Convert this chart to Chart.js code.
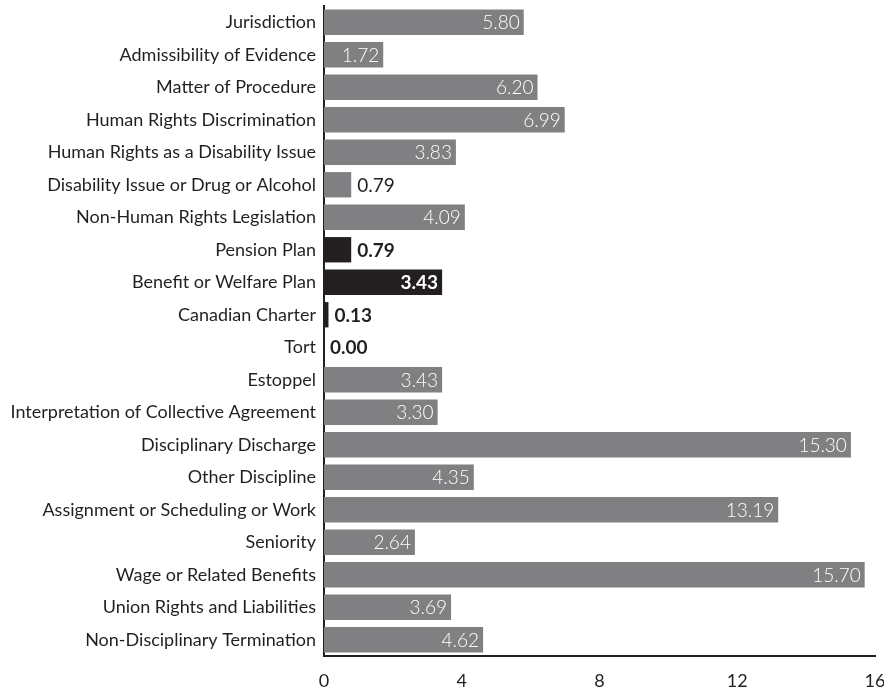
<!DOCTYPE html>
<html>
<head>
<meta charset="utf-8">
<script src="https://cdn.jsdelivr.net/npm/chart.js@4"></script>
<style>
  html, body { margin: 0; padding: 0; background: #fff; }
  #wrap { width: 884px; height: 690px; position: relative; }
</style>
</head>
<body>
<div id="wrap"><canvas id="issuesChart"></canvas></div>
<script>
const categories = [
  "Jurisdiction",
  "Admissibility of Evidence",
  "Matter of Procedure",
  "Human Rights Discrimination",
  "Human Rights as a Disability Issue",
  "Disability Issue or Drug or Alcohol",
  "Non-Human Rights Legislation",
  "Pension Plan",
  "Benefit or Welfare Plan",
  "Canadian Charter",
  "Tort",
  "Estoppel",
  "Interpretation of Collective Agreement",
  "Disciplinary Discharge",
  "Other Discipline",
  "Assignment or Scheduling or Work",
  "Seniority",
  "Wage or Related Benefits",
  "Union Rights and Liabilities",
  "Non-Disciplinary Termination"
];

const percentages = [5.80, 1.72, 6.20, 6.99, 3.83, 0.79, 4.09, 0.79, 3.43, 0.13,
  0.00, 3.43, 3.30, 15.30, 4.35, 13.19, 2.64, 15.70, 3.69, 4.62];

const highlighted = ["Pension Plan", "Benefit or Welfare Plan", "Canadian Charter", "Tort"];

const xTicks = [0, 4, 8, 12, 16];

const colorGrey = "#808083",
  colorDark = "#231f20",
  fontFamily = "Lato, 'Open Sans', sans-serif";

const isHighlighted = (i) => highlighted.includes(categories[i]);

// value labels: white inside the bar when it fits, dark just past the end otherwise
const barLabels = {
  id: "barLabels",
  afterDatasetsDraw(chart) {
    const { ctx } = chart;
    const meta = chart.getDatasetMeta(0);
    ctx.save();
    ctx.textBaseline = "middle";
    meta.data.forEach((bar, i) => {
      const bold = isHighlighted(i);
      const text = percentages[i].toFixed(2);
      ctx.font = (bold ? "bold " : "300 ") + "19px " + fontFamily;
      const barW = bar.x - bar.base;
      if (barW > ctx.measureText(text).width + 10) {
        ctx.fillStyle = "#fff";
        ctx.textAlign = "right";
        ctx.fillText(text, bar.x - 4, bar.y + 1);
      } else {
        ctx.font = (bold ? "bold " : "") + "19px " + fontFamily;
        ctx.fillStyle = colorDark;
        ctx.textAlign = "left";
        ctx.fillText(text, bar.x + 6, bar.y + 1);
      }
    });
    ctx.restore();
  }
};

new Chart(document.getElementById("issuesChart"), {
  type: "bar",
  data: {
    labels: categories,
    datasets: [{
      data: percentages,
      backgroundColor: percentages.map((v, i) => isHighlighted(i) ? colorDark : colorGrey),
      borderWidth: 0,
      barPercentage: 0.78,
      categoryPercentage: 1
    }]
  },
  options: {
    indexAxis: "y",
    responsive: true,
    maintainAspectRatio: false,
    animation: false,
    layout: { padding: { top: 6, right: 9, left: 0, bottom: 0 } },
    plugins: { legend: { display: false }, tooltip: { enabled: false } },
    scales: {
      x: {
        min: 0,
        max: 16,
        afterBuildTicks: (scale) => { scale.ticks = xTicks.map((v) => ({ value: v })); },
        afterFit: (scale) => {
          scale.height = 34;
          scale.paddingLeft = 0;
          scale.paddingRight = 0;
        },
        grid: { display: false, drawTicks: false },
        border: { color: colorDark, width: 2 },
        ticks: { color: colorDark, padding: 14, font: { family: fontFamily, size: 18 } }
      },
      y: {
        afterFit: (scale) => {
          scale.width = 324;
          scale.paddingTop = 0;
          scale.paddingBottom = 0;
        },
        grid: { display: false, drawTicks: false },
        border: { color: colorDark, width: 2 },
        ticks: { color: colorDark, padding: 8, font: { family: fontFamily, size: 18 } }
      }
    }
  },
  plugins: [barLabels]
});
</script>
</body>
</html>
